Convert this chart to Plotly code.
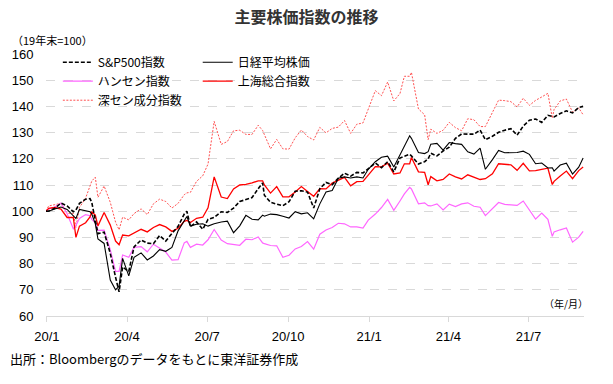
import plotly.graph_objects as go

dates = ["2019-12-31","2020-01-03","2020-01-10","2020-01-17","2020-01-24","2020-01-31","2020-02-03","2020-02-07",
"2020-02-14","2020-02-19","2020-02-21","2020-02-25","2020-02-28","2020-03-06","2020-03-13","2020-03-19","2020-03-23",
"2020-03-27","2020-04-03","2020-04-09","2020-04-17","2020-04-24","2020-05-01","2020-05-08","2020-05-15","2020-05-22",
"2020-05-29","2020-06-05","2020-06-08","2020-06-12","2020-06-19","2020-06-26","2020-07-02","2020-07-09","2020-07-17",
"2020-07-24","2020-07-31","2020-08-07","2020-08-14","2020-08-21","2020-08-28","2020-09-02","2020-09-04","2020-09-11",
"2020-09-18","2020-09-25","2020-10-02","2020-10-09","2020-10-16","2020-10-23","2020-10-30","2020-11-06","2020-11-13",
"2020-11-20","2020-11-27","2020-12-04","2020-12-11","2020-12-18","2020-12-25","2020-12-31","2021-01-08","2021-01-15",
"2021-01-22","2021-01-29","2021-02-05","2021-02-10","2021-02-16","2021-02-18","2021-02-26","2021-03-05","2021-03-09",
"2021-03-12","2021-03-19","2021-03-26","2021-04-02","2021-04-09","2021-04-16","2021-04-23","2021-04-30","2021-05-07",
"2021-05-13","2021-05-21","2021-05-28","2021-06-04","2021-06-11","2021-06-18","2021-06-25","2021-07-02","2021-07-09",
"2021-07-16","2021-07-23","2021-07-28","2021-07-30","2021-08-06","2021-08-13","2021-08-20","2021-08-27","2021-09-01"]

sp500 = [100,100.1,101.1,103.1,102.0,99.8,100.5,103.0,104.6,104.8,103.3,96.4,91.4,92.0,83.9,74.8,69.2,
78.7,77.0,86.4,89.0,87.8,87.6,90.7,88.6,91.5,94.2,98.9,100.0,94.1,95.9,93.1,96.9,97.6,99.8,
99.5,101.2,103.7,104.4,105.2,108.6,110.8,106.1,103.4,102.7,102.1,103.6,107.6,107.8,107.3,101.2,108.6,111.0,
110.1,112.6,114.5,113.4,114.8,114.6,116.3,118.4,116.6,118.9,115.0,120.3,121.0,121.7,121.1,118.0,118.9,120.0,
122.1,121.1,123.0,124.4,127.8,129.5,129.4,129.4,131.0,127.3,128.6,130.1,130.9,131.5,129.0,132.5,134.7,135.2,
133.9,136.6,136.2,136.0,137.3,138.3,137.5,139.6,140.0]

nikkei = [100,100,100.8,101.6,100.7,98.1,97.2,100.7,100.1,99.8,98.9,95.2,89.4,87.7,73.7,70.0,71.4,
82.0,75.3,82.4,84.1,81.4,82.9,85.3,84.7,86.2,92.5,96.6,98.0,94.3,95.0,95.2,94.3,95.2,95.9,
96.2,91.8,94.4,98.4,96.9,96.7,98.5,98.1,98.9,98.7,98.1,97.4,99.8,99.0,99.4,97.1,102.8,107.3,
107.9,112.6,113.1,112.7,113.1,112.7,116.0,118.9,120.6,121.0,116.9,121.7,125.0,128.8,127.8,122.4,122.0,122.7,
125.6,125.9,123.3,126.2,125.8,125.5,122.7,121.8,124.1,116.0,119.7,123.2,122.3,122.4,122.4,122.9,121.7,118.1,
118.4,116.5,116.6,115.3,117.6,118.3,114.2,116.8,120.3]

hangseng = [100,100.9,101.6,103.1,99.0,93.3,94.6,97.2,98.7,98.3,96.9,95.6,92.7,92.8,85.3,77.0,77.0,
83.3,82.4,86.2,86.5,84.5,87.4,86.0,84.4,81.3,81.5,87.9,88.5,86.2,87.4,87.1,89.1,93.0,89.0,
87.6,87.2,87.0,89.3,89.1,90.2,87.9,87.6,86.9,86.8,82.4,83.2,85.6,86.5,88.4,85.5,91.2,92.8,
93.8,95.4,95.2,94.0,94.0,93.6,96.6,98.9,101.4,104.5,100.3,103.9,106.6,109.1,108.5,102.8,103.2,102.1,
102.0,102.8,100.5,102.7,101.8,102.8,103.2,101.9,101.5,98.3,101.0,103.3,102.6,102.3,102.2,103.9,100.4,97.0,
99.3,96.9,90.4,92.1,92.9,93.6,88.2,90.1,92.3]

shanghai = [100,101.1,101.4,100.8,97.6,97.6,90.0,94.3,95.6,97.8,99.7,98.5,94.4,99.5,94.7,88.6,87.2,
90.9,90.6,91.7,93.1,92.1,93.8,94.9,94.0,92.3,93.5,96.1,96.5,95.7,97.3,97.7,101.3,113.1,105.4,
104.8,108.5,110.0,110.2,110.8,111.6,111.6,110.0,106.9,109.4,105.5,105.5,107.3,109.4,107.5,105.7,108.6,108.5,
110.7,111.7,112.9,109.7,111.3,111.4,113.9,117.0,116.9,118.3,114.2,114.6,118.1,118.1,120.5,115.0,114.8,110.1,
113.2,111.6,112.1,114.2,113.1,112.3,113.9,113.0,112.1,112.4,114.3,118.1,117.8,117.7,115.6,118.3,115.4,115.5,
116.0,116.4,110.2,111.4,113.4,115.3,112.4,115.5,116.9]

shenzhen = [100,102.0,102.5,103.0,99.2,99.2,93.8,101.4,105.0,109.5,111.5,113.0,105.3,109.6,103.4,95.8,92.9,
97.7,96.7,99.1,100.9,98.7,102.8,104.6,103.7,101.2,103.0,106.3,107.0,107.2,111.4,113.5,118.0,134.3,125.5,
126.6,130.7,130.9,129.3,129.3,132.8,130.8,129.1,123.8,127.4,123.8,123.7,128.0,131.0,128.5,127.2,132.0,129.9,
131.6,132.1,134.6,129.7,133.2,133.7,138.7,146.0,144.1,149.3,142.1,144.9,151.5,151.5,153.0,139.0,136.8,127.3,
131.3,129.7,130.9,133.9,131.9,130.7,135.3,134.9,132.3,132.3,137.7,142.4,142.2,141.8,139.8,143.1,140.4,142.3,
143.6,145.0,135.5,138.8,142.1,142.8,137.8,139.4,136.8]

tick_vals = ["2020-01-01","2020-04-01","2020-07-01","2020-10-01","2021-01-01","2021-04-01","2021-07-01"]
tick_text = ["20/1","20/4","20/7","20/10","21/1","21/4","21/7"]
y_ticks = [60,70,80,90,100,110,120,130,140,150,160]

JP = "Noto Sans CJK JP"
LAT = "Liberation Sans, Noto Sans CJK JP"

fig = go.Figure()
fig.add_trace(go.Scatter(x=dates, y=shenzhen, name="深セン成分指数", mode="lines",
                         line=dict(color="#FF5050", width=1, dash="2px,1.5px"), legend="legend"))
fig.add_trace(go.Scatter(x=dates, y=hangseng, name="ハンセン指数", mode="lines",
                         line=dict(color="#FF66FF", width=1.2), legend="legend"))
fig.add_trace(go.Scatter(x=dates, y=shanghai, name="上海総合指数", mode="lines",
                         line=dict(color="#FF0000", width=1.3), legend="legend2"))
fig.add_trace(go.Scatter(x=dates, y=nikkei, name="日経平均株価", mode="lines",
                         line=dict(color="#000000", width=1.1), legend="legend2"))
fig.add_trace(go.Scatter(x=dates, y=sp500, name="S&P500指数", mode="lines",
                         line=dict(color="#000000", width=1.6, dash="4px,2px"), legend="legend"))

fig.update_layout(
    width=613, height=384,
    margin=dict(l=46, r=29, t=54, b=68),
    paper_bgcolor="white", plot_bgcolor="white",
    font=dict(family=JP, size=12, color="#000000"),
    showlegend=True,
    title=dict(text="<b>主要株価指数の推移</b>", x=0.5, xanchor="center", y=1 - 17/384, yanchor="middle",
               font=dict(family=JP, size=16, color="#333333")),
    legend=dict(x=0.022, y=1.024, xanchor="left", yanchor="top", traceorder="reversed",
                bgcolor="rgba(0,0,0,0)", font=dict(family=JP, size=12), itemwidth=30),
    legend2=dict(x=0.282, y=1.024, xanchor="left", yanchor="top", traceorder="reversed",
                 bgcolor="rgba(0,0,0,0)", font=dict(family=JP, size=12), itemwidth=30),
    xaxis=dict(type="date", range=["2019-12-31", "2021-09-02"], tickvals=tick_vals, ticktext=tick_text,
               showgrid=False, showline=True, linecolor="#D9D9D9", linewidth=1,
               ticks="outside", ticklen=5, tickcolor="#D9D9D9", tickwidth=1, ticklabelstandoff=3,
               tickfont=dict(family=LAT, size=13, color="#000000"), zeroline=False),
    yaxis=dict(range=[60, 160], tickvals=y_ticks, showgrid=True, gridcolor="#D9D9D9", griddash="dash",
               gridwidth=1, showline=False, zeroline=False,
               ticks="outside", ticklen=9, tickcolor="rgba(0,0,0,0)",
               tickfont=dict(family=LAT, size=13, color="#000000")),
    annotations=[
        dict(text="（19年末=100）", xref="paper", yref="paper", x=(10-46)/538, y=(316-40)/262,
             xanchor="left", yanchor="middle", showarrow=False, font=dict(family=JP, size=11, color="#000000")),
        dict(text="（年/月）", xref="paper", yref="paper", x=(590-46)/538, y=(316-303)/262,
             xanchor="right", yanchor="middle", showarrow=False, font=dict(family=JP, size=10, color="#000000")),
        dict(text="出所：Bloombergのデータをもとに東洋証券作成", xref="paper", yref="paper",
             x=(8-46)/538, y=(316-358)/262, xanchor="left", yanchor="middle", showarrow=False,
             font=dict(family=JP, size=13, color="#000000")),
    ],
)

fig.write_html("out.html", config={"displayModeBar": False},
               post_script="document.body.style.margin='0';document.body.style.overflow='hidden';")
